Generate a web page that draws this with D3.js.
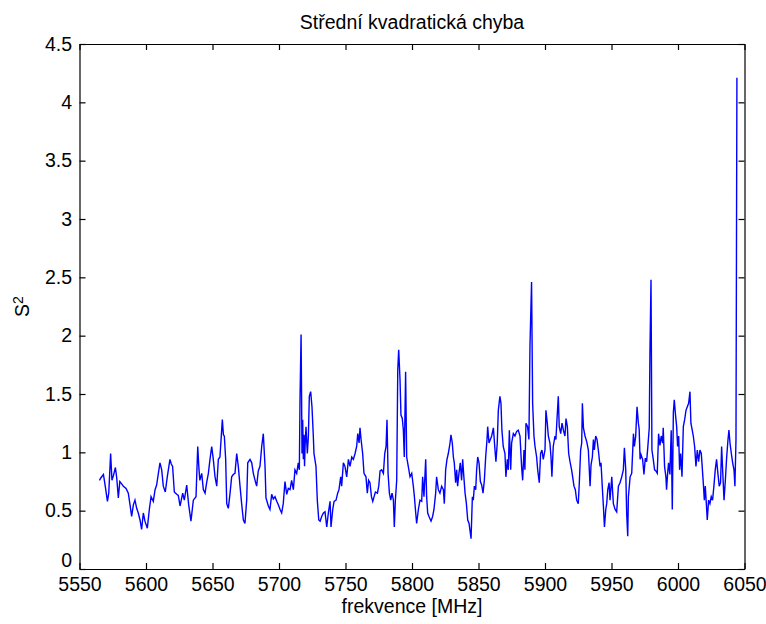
<!DOCTYPE html>
<html>
<head>
<meta charset="utf-8">
<script src="https://cdn.jsdelivr.net/npm/d3@7"></script>
<style>
  html, body { margin: 0; padding: 0; background: #fff; }
  svg { display: block; }
  text { font-family: "Liberation Sans", Arial, sans-serif; fill: #000; }
</style>
</head>
<body>
<svg id="chart" width="766" height="624"></svg>
<script>
// ---- data ----
const chartTitle = "Střední kvadratická chyba";
const xLabel = "frekvence [MHz]";
const xTicks = [5550, 5600, 5650, 5700, 5750, 5800, 5850, 5900, 5950, 6000, 6050];
const yTicks = [0, 0.5, 1, 1.5, 2, 2.5, 3, 3.5, 4, 4.5];
const yTickLabels = ["0", "0.5", "1", "1.5", "2", "2.5", "3", "3.5", "4", "4.5"];

const freqMHz = [
5565,5566,5568,5569.5,5571,5572,5573.4,5574.4,5575.5,5577,5578,5579.2,5580.3,5581.7,5583,5585,5586.7,5588,5589.2,5590.5,
5591.7,5593,5594.2,5595.5,5596.7,5598,5599.2,5601,5602.5,5603.8,5605.5,5606.8,5608,5609.3,5610.5,5611.8,5613,5614.5,5616,5618,
5619,5620,5621.3,5623.1,5624.3,5625.6,5627.6,5628.8,5630.6,5632.1,5633.8,5635.6,5637.6,5638.9,5639.8,5640.5,
5641.9,5643.1,5644.4,5645.6,5646.9,5648.1,5649.4,5650.6,5651.9,5653.2,5654.4,5655.6,5656.5,5657.4,5658.2,5658.9,5659.9,5660.7,5661.9,5663.2,
5664.4,5665.6,5666.9,5668.2,5669.4,5670.7,5671.9,5673.2,5674.4,5675.7,5676.5,5678.2,5679.5,5680.7,5682,5683.2,5684.4,5685.7,5687,5688.2,
5689.5,5690.2,5692,5693.2,5694.5,5695.7,5697,5698.3,5699.5,5700.8,5702,5703.2,5704.5,5705.8,5707,5708.3,5709.5,5710.8,5712,5713.3,
5714.5,5715.3,5715.8,5716.6,5717.0,5717.3,5717.8,5718.3,5718.8,5719.2,5719.6,5720.3,5721.3,5722.1,5722.8,5723.8,5724.8,5725.8,5726.3,5727.8,
5728.8,5729.9,5730.9,5732.1,5733.4,5734.6,5735.9,5737.1,5738.4,5739.1,5740.4,5741.4,5742.9,5744.1,5745.1,5746.4,5747.1,5748.4,5749.6,5750.9,
5752.2,5753.4,5754.7,5755.9,5757.2,5758.4,5759.2,5760.2,5760.9,5761.7,5762.9,5763.9,5765.4,5766.4,5767.4,5768.4,5769.5,5770.5,5771.5,5772.5,
5774,5775,5776,5777.2,5778.5,5779.5,5780.5,5781.2,5782,5783,5784,5785,5786,5786.7,5787.5,5788.5,5789.3,5790,
5791,5791.7,5792.7,5793.5,5794.2,5795.2,5796,5797.2,5798.5,5799.8,5801,5801.8,5802.8,5803.5,5804.8,5806,5807.3,5808,5809,5810.3,
5811,5811.8,5812.8,5814.3,5815.5,5816.5,5817.8,5818.5,5819.8,5821,5822.3,5823.6,5824.3,5825.3,5826.3,5827.3,5828.6,5829.3,5830.3,5831.1,
5831.8,5832.8,5833.6,5834.3,5835.3,5836.3,5837.3,5838.1,5838.8,5839.9,5840.9,5841.9,5842.9,5843.6,5844.4,5845.4,5846.1,5846.9,5847.9,5848.6,
5849.4,5850.4,5851.4,5852.4,5853.4,5854.4,5855.4,5856.4,5856.9,5857.9,5858.9,5859.9,5861.2,
5862.4,5863.1,5864.1,5864.9,5866.1,5866.9,5867.6,5868.6,5869.9,5870.6,5871.7,5872.4,5873.2,5874.2,5874.9,5876.2,5877.4,5878.7,5879.9,5881.2,
5882.4,5883.2,5884.2,5884.9,5885.7,5886.9,5887.9,5888.7,5889.9,5890.7,5891.7,5892.5,5893.7,5894.5,5895.7,5896.7,5897.7,5898.7,5900,5900.7,
5901.7,5902.5,5903.7,5904.5,5905.2,5906.2,5907.5,5908.2,5909,5910,5910.7,5911.8,5912.8,5913.8,5915,5915.8,5916.8,5917.8,5918.8,5920,
5920.8,5921.8,5922.8,5923.8,5925,5925.8,5926.8,5927.6,5928.1,5928.9,5930.1,5931.4,5932.6,
5933.9,5934.6,5935.6,5936.4,5937.1,5938.1,5939.1,5940.1,5941.4,5942.1,5943.2,5943.9,5944.7,5945.7,5946.4,5947.2,5948.2,5948.9,5950.2,5951.4,
5952.7,5953.9,5955.2,5956.4,5957.7,5958.9,5959.7,5960.7,5961.4,5962.2,5962.7,5964,5965.2,5966.5,5967.2,5968.2,5969.2,5970.2,5970.8,5971.5,
5972.2,5973.4,5974.4,5975.4,5976.4,5977.4,5978.4,5978.9,5979.7,5980.4,5981.4,5982.4,5983.4,5984.4,5985.4,5986.4,5987.4,5988.4,5988.9,5989.9,
5990.9,5991.4,5992.2,5992.9,5993.9,5994.9,5995.7,5996.5,5997.2,5998.2,5999,5999.7,6000.5,6001.2,6002,6003,6004,6005,6006,6007,
6008,6009,6009.7,6010.7,6011.5,6012.5,6013.5,6014.5,6015.5,6016.5,6017.5,6018,6019,6019.8,6020.5,6021.3,6022,6023,6024,6025,
6026,6027,6028,6029,6030,6031,6032,6032.8,6033.8,6034.6,6035.6,6036.6,6037.6,6038.3,6039.1,6040.1,6041.1,6042.1,6042.8,6043.6,6044.3
];

const s2Values = [
0.76,0.78,0.81,0.70,0.58,0.65,0.99,0.76,0.80,0.87,0.78,0.61,0.75,0.73,0.71,0.69,0.65,0.55,0.45,0.55,
0.59,0.52,0.48,0.42,0.34,0.48,0.41,0.35,0.51,0.62,0.58,0.68,0.72,0.82,0.91,0.85,0.71,0.66,0.79,0.94,
0.90,0.88,0.66,0.64,0.63,0.54,0.65,0.59,0.72,0.55,0.41,0.59,0.62,1.05,0.86,0.76,
0.82,0.68,0.65,0.74,0.82,0.94,1.05,0.94,0.79,0.71,0.94,0.96,1.12,1.28,1.15,1.14,0.94,0.56,0.52,0.65,
0.79,0.81,0.82,0.99,0.88,0.71,0.56,0.42,0.39,0.59,0.91,0.94,0.91,0.82,0.76,0.71,0.84,0.88,1.05,1.16,
0.88,0.61,0.54,0.51,0.64,0.60,0.62,0.58,0.55,0.51,0.48,0.56,0.75,0.64,0.69,0.68,0.76,0.68,0.85,0.82,
0.91,0.85,1.46,2.01,1.45,0.99,1.28,0.94,1.15,0.88,1.05,1.22,0.99,1.14,1.48,1.52,1.39,1.14,0.99,0.88,
0.59,0.42,0.41,0.45,0.48,0.49,0.36,0.48,0.58,0.36,0.51,0.58,0.59,0.65,0.68,0.79,0.71,0.91,0.88,0.79,
0.94,0.88,0.96,0.94,0.99,1.05,1.16,1.08,1.21,1.11,0.99,0.82,0.79,0.65,0.76,0.74,0.62,0.58,0.62,0.66,
0.65,0.71,0.84,0.85,0.82,0.99,1.05,1.28,0.82,0.65,0.59,0.65,0.59,0.36,0.59,0.76,1.71,1.88,
1.62,1.32,1.29,1.19,0.96,1.69,0.96,0.88,0.79,0.82,0.71,0.62,0.48,0.39,0.51,0.59,0.58,0.79,0.62,0.94,
0.62,0.48,0.45,0.41,0.45,0.51,0.65,0.79,0.68,0.65,0.71,0.68,0.56,0.85,0.94,0.99,1.08,1.15,1.08,0.96,
0.91,0.74,0.85,0.71,0.82,0.91,0.76,0.94,0.82,0.65,0.56,0.42,0.39,0.33,0.26,0.62,0.59,0.71,0.68,0.85,
0.96,0.91,0.75,0.72,0.65,0.76,0.96,1.11,1.22,1.08,1.11,1.14,1.21,
1.02,0.92,1.08,1.36,1.48,1.42,1.19,1.05,0.99,0.79,0.94,0.85,1.19,0.85,1.08,1.16,1.14,1.18,1.19,1.14,
0.88,0.76,1.02,0.85,1.25,1.22,1.11,1.91,2.46,1.42,1.14,1.05,0.96,0.85,0.74,0.99,1.02,0.94,1.02,1.36,
1.25,1.14,1.08,0.96,0.79,1.05,1.14,1.11,1.28,1.48,1.22,1.16,1.25,1.19,1.14,1.29,1.22,0.99,0.92,0.85,
0.79,0.71,0.68,0.59,0.56,0.74,1.02,1.08,1.42,1.21,1.14,1.09,1.02,
0.71,0.89,0.96,1.11,1.02,1.14,1.11,1.02,0.88,0.91,0.68,0.54,0.36,0.51,0.56,0.68,0.74,0.59,0.79,0.56,
0.51,0.49,0.71,0.74,0.79,0.85,1.04,0.85,0.48,0.28,0.62,0.79,0.82,1.16,1.05,1.14,1.39,1.25,1.20,0.94,
0.98,0.94,0.81,0.95,0.92,1.06,1.21,1.85,2.48,1.02,0.94,0.85,0.84,0.82,1.16,1.06,1.14,1.08,1.21,0.88,
0.79,0.68,0.82,0.91,0.81,1.19,0.51,1.34,1.45,1.31,1.22,1.05,1.14,0.85,0.99,0.79,1.22,1.28,1.36,1.39,
1.42,1.52,1.25,1.19,1.14,1.05,0.88,1.02,0.92,1.02,0.99,0.91,0.74,0.59,0.71,0.56,0.42,0.59,0.56,0.62,
0.59,0.71,0.85,0.94,0.82,0.71,0.74,1.05,0.79,0.59,0.76,0.96,1.11,1.19,1.08,0.99,0.91,0.85,0.71,1.11,4.21
];

// ---- layout ----
const W = 766, H = 624;
const plot = { left: 79.5, right: 744.5, top: 44, bottom: 569 };
const svg = d3.select("#chart");

const x = d3.scaleLinear().domain([5550, 6050]).range([plot.left, plot.right]);
const y = d3.scaleLinear().domain([0, 4.5]).range([plot.bottom, plot.top]);

const fontSize = 19.5;
const tickLen = 6;

// bottom axis with labels
svg.append("g").attr("transform", `translate(0,${plot.bottom})`)
  .call(d3.axisBottom(x).tickValues(xTicks).tickFormat(d3.format("d"))
    .tickSizeInner(-tickLen).tickSizeOuter(0).tickPadding(8));
// top axis (ticks only)
svg.append("g").attr("transform", `translate(0,${plot.top})`)
  .call(d3.axisTop(x).tickValues(xTicks).tickFormat("")
    .tickSizeInner(-tickLen).tickSizeOuter(0));
// left axis with labels
const gy = svg.append("g").attr("transform", `translate(${plot.left},0)`)
  .call(d3.axisLeft(y).tickValues(yTicks).tickFormat((d, i) => yTickLabels[i])
    .tickSizeInner(-tickLen).tickSizeOuter(0).tickPadding(7.5));
// right axis (ticks only)
svg.append("g").attr("transform", `translate(${plot.right},0)`)
  .call(d3.axisRight(y).tickValues(yTicks).tickFormat("")
    .tickSizeInner(-tickLen).tickSizeOuter(0));

svg.selectAll(".domain").attr("stroke", "#000").attr("stroke-width", 1.2);
svg.selectAll(".tick line").attr("stroke", "#000").attr("stroke-width", 1.2);
svg.selectAll(".tick text")
  .attr("fill", "#000")
  .style("font-family", '"Liberation Sans", Arial, sans-serif')
  .style("font-size", fontSize + "px");
// the "0" label sits just above the x tick labels, as in the reference
gy.selectAll(".tick text").filter(d => d === 0).attr("dy", "-0.14em");

// line
const pts = freqMHz.map((f, i) => [f, s2Values[i]]);
const line = d3.line().x(d => x(d[0])).y(d => y(d[1]));
svg.append("path")
  .datum(pts)
  .attr("d", line)
  .attr("fill", "none")
  .attr("stroke", "#0000ff")
  .attr("stroke-width", 1.4)
  .attr("stroke-linejoin", "miter");

// title
svg.append("text")
  .attr("x", (plot.left + plot.right) / 2)
  .attr("y", 29)
  .attr("text-anchor", "middle")
  .style("font-size", fontSize + "px")
  .text(chartTitle);

// x label
svg.append("text")
  .attr("x", (plot.left + plot.right) / 2)
  .attr("y", 613)
  .attr("text-anchor", "middle")
  .style("font-size", fontSize + "px")
  .text(xLabel);

// y label S^2
const yl = svg.append("text")
  .attr("transform", `translate(29,${(plot.top + plot.bottom) / 2}) rotate(-90)`)
  .attr("text-anchor", "middle")
  .style("font-size", fontSize + "px");
yl.append("tspan").text("S");
yl.append("tspan").attr("dy", "-0.45em").style("font-size", "14px").text("2");
</script>
</body>
</html>
